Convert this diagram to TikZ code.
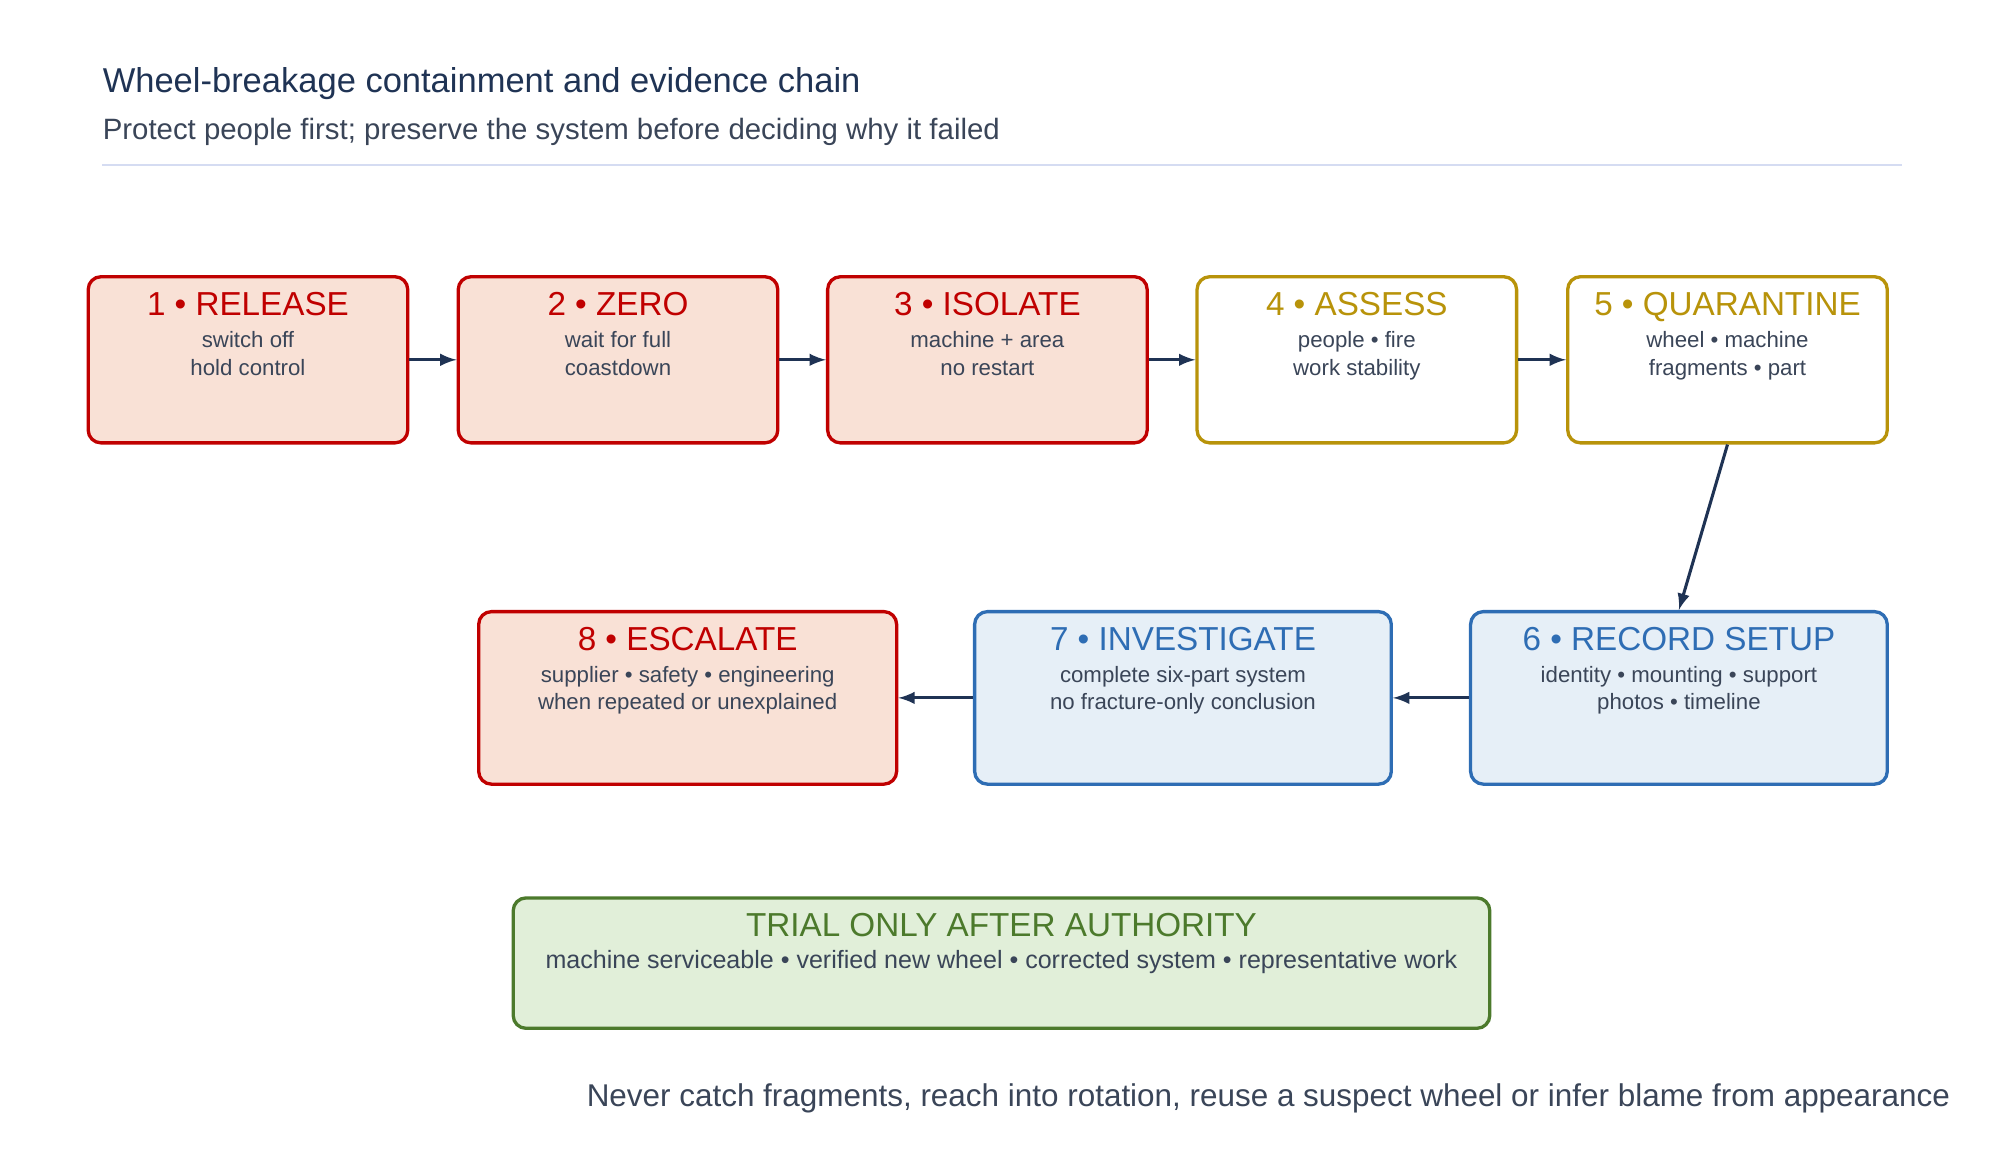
\documentclass[tikz,border=0pt]{standalone}
\usepackage{fontspec}
\setmainfont{Liberation Sans}
\usetikzlibrary{positioning}
\definecolor{navy}{HTML}{1F3354}
\definecolor{bodytxt}{HTML}{3A4558}
\definecolor{redln}{HTML}{C00000}
\definecolor{redfl}{HTML}{F9E1D6}
\definecolor{goldln}{HTML}{B8930A}
\definecolor{blueln}{HTML}{2E6DB4}
\definecolor{bluefl}{HTML}{E6EFF7}
\definecolor{greenln}{HTML}{4C7A2C}
\definecolor{greenfl}{HTML}{E1EFD9}
\definecolor{rule}{HTML}{D5DCF2}
\tikzset{
  box/.style={draw, line width=1.3pt, rounded corners=5pt, inner sep=0pt},
  redbox/.style={box, draw=redln, fill=redfl},
  goldbox/.style={box, draw=goldln, fill=white},
  bluebox/.style={box, draw=blueln, fill=bluefl},
  greenbox/.style={box, draw=greenln, fill=greenfl},
  head/.style={anchor=north, inner sep=0pt, font=\fontsize{13}{15}\selectfont},
  body/.style={anchor=north, inner sep=0pt, align=center, text=bodytxt, font=\fontsize{8.7}{10.6}\selectfont},
  flow/.style={draw=navy, line width=1.2pt, -latex}
}
\begin{document}
\begin{tikzpicture}[x=0.5pt,y=0.5pt,yscale=-1]
\useasboundingbox (0,0) rectangle (1560,908);

% header
\node[anchor=base west, inner sep=0pt, text=navy, font=\fontsize{13.5}{16}\selectfont] (title) at (80,72) {Wheel-breakage containment and evidence chain};
\node[anchor=base west, inner sep=0pt, text=bodytxt, font=\fontsize{11.5}{14}\selectfont] (sub) at (80,109) {Protect people first; preserve the system before deciding why it failed};
\draw[rule, line width=1pt] (80,129) -- (1488,129);

% row 1
\node[redbox, minimum width=125pt, minimum height=65pt] (s1) at (194,281.5) {};
\node[redbox, minimum width=125pt, minimum height=65pt] (s2) at (483.5,281.5) {};
\node[redbox, minimum width=125pt, minimum height=65pt] (s3) at (772.5,281.5) {};
\node[goldbox, minimum width=125pt, minimum height=65pt] (s4) at (1061.5,281.5) {};
\node[goldbox, minimum width=125pt, minimum height=65pt] (s5) at (1351.5,281.5) {};

% row 2
\node[bluebox, minimum width=163pt, minimum height=67.5pt] (s6) at (1313.5,546) {};
\node[bluebox, minimum width=163pt, minimum height=67.5pt] (s7) at (925.5,546) {};
\node[redbox, minimum width=163.5pt, minimum height=67.5pt] (s8) at (538,546) {};

% trial
\node[greenbox, minimum width=382pt, minimum height=51pt] (trial) at (783.5,753.5) {};

% labels
\node[head, text=redln] at ([yshift=6.5pt]s1.north) {1 • RELEASE};
\node[body] at ([yshift=22pt]s1.north) {switch off\\hold control};
\node[head, text=redln] at ([yshift=6.5pt]s2.north) {2 • ZERO};
\node[body] at ([yshift=22pt]s2.north) {wait for full\\coastdown};
\node[head, text=redln] at ([yshift=6.5pt]s3.north) {3 • ISOLATE};
\node[body] at ([yshift=22pt]s3.north) {machine + area\\no restart};
\node[head, text=goldln] at ([yshift=6.5pt]s4.north) {4 • ASSESS};
\node[body] at ([yshift=22pt]s4.north) {people • fire\\work stability};
\node[head, text=goldln] at ([yshift=6.5pt]s5.north) {5 • QUARANTINE};
\node[body] at ([yshift=22pt]s5.north) {wheel • machine\\fragments • part};
\node[head, text=blueln] at ([yshift=6.5pt]s6.north) {6 • RECORD SETUP};
\node[body] at ([yshift=22pt]s6.north) {identity • mounting • support\\photos • timeline};
\node[head, text=blueln] at ([yshift=6.5pt]s7.north) {7 • INVESTIGATE};
\node[body] at ([yshift=22pt]s7.north) {complete six-part system\\no fracture-only conclusion};
\node[head, text=redln] at ([yshift=6.5pt]s8.north) {8 • ESCALATE};
\node[body] at ([yshift=22pt]s8.north) {supplier • safety • engineering\\when repeated or unexplained};
\node[head, text=greenln] at ([yshift=6.5pt]trial.north) {TRIAL ONLY AFTER AUTHORITY};
\node[body, font=\fontsize{9.8}{11.5}\selectfont] at ([yshift=21pt]trial.north) {machine serviceable • verified new wheel • corrected system • representative work};

% connectors
\draw[flow] (s1) -- (s2);
\draw[flow] (s2) -- (s3);
\draw[flow] (s3) -- (s4);
\draw[flow] (s4) -- (s5);
\draw[flow] (s5.south) -- (s6.north);
\draw[flow] (s6) -- (s7);
\draw[flow] (s7) -- (s8);

% footer
\node[anchor=base east, inner sep=0pt, text=bodytxt, font=\fontsize{12.3}{14}\selectfont] (note) at (1526,866) {Never catch fragments, reach into rotation, reuse a suspect wheel or infer blame from appearance};
\end{tikzpicture}
\end{document}
